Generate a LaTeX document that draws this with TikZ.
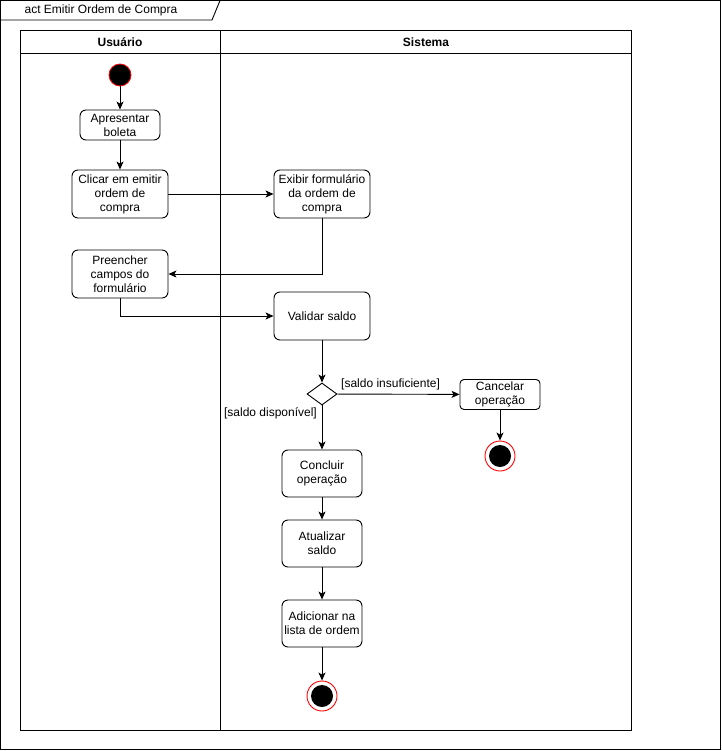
\documentclass[tikz,border=0pt]{standalone}
\usepackage{fontspec}
\setmainfont{Liberation Sans}
\usetikzlibrary{arrows.meta,shapes.geometric}
\begin{document}
\begin{tikzpicture}[x=1pt,y=-1pt,
  every node/.style={font=\fontsize{12}{14}\selectfont},
  action/.style={draw,rounded corners=6pt,line width=0.9pt,align=center,inner sep=0pt},
  flow/.style={line width=0.9pt,-{Stealth[length=8pt,width=7pt,inset=2pt]}},
  frame/.style={line width=0.9pt},
  startnode/.style={circle,draw=red,fill=black,minimum size=22pt,inner sep=0pt,line width=0.8pt},
  endnode/.style={circle,draw=red,fill=white,minimum size=30pt,inner sep=0pt,line width=0.9pt,
    path picture={\fill[black] (path picture bounding box.center) circle (11pt);}},
  guard/.style={font=\fontsize{12}{14}\selectfont,inner sep=0pt}]
\useasboundingbox (0,0) rectangle (721,751);
% outer frame and title tab
\draw[frame] (0.5,0.5) rectangle (720.5,749.5);
\draw[frame] (0.5,20) -- (212,20) -- (220,0.5);
\node[inner sep=0pt] (title) at (101,10) {act Emitir Ordem de Compra};
% swimlanes
\draw[frame] (20,30) rectangle (631,730);
\draw[frame] (20,53) -- (631,53);
\draw[frame] (220,30) -- (220,730);
\node[font=\fontsize{12}{14}\selectfont\bfseries] (laneU) at (120,42) {Usuário};
\node[font=\fontsize{12}{14}\selectfont\bfseries] (laneS) at (426,42) {Sistema};
% nodes
\node[startnode] (start) at (120,75) {};
\node[action,minimum width=80pt,minimum height=30pt] (apres) at (120,125) {Apresentar\\boleta};
\node[action,minimum width=96pt,minimum height=48pt] (clicar) at (120,194) {Clicar em emitir\\ordem de\\compra};
\node[action,minimum width=96pt,minimum height=48pt] (exibir) at (322,194) {Exibir formulário\\da ordem de\\compra};
\node[action,minimum width=96pt,minimum height=48pt] (preencher) at (120,274) {Preencher\\campos do\\formulário};
\node[action,minimum width=96pt,minimum height=48pt] (validar) at (322,316) {Validar saldo};
\node[diamond,draw,line width=0.9pt,minimum width=30pt,minimum height=22pt,inner sep=0pt] (dec) at (322,394) {};
\node[action,minimum width=80pt,minimum height=30pt,rounded corners=4pt] (cancelar) at (500,394.5) {Cancelar\\operação};
\node[endnode] (fim1) at (500,456) {};
\node[action,minimum width=80pt,minimum height=47pt] (concluir) at (322,473.5) {Concluir\\operação};
\node[action,minimum width=80pt,minimum height=47pt] (atualizar) at (322,543.5) {Atualizar\\saldo};
\node[action,minimum width=80pt,minimum height=47pt] (adicionar) at (322,623.5) {Adicionar na\\lista de ordem};
\node[endnode] (fim2) at (322,696) {};
% guards
\node[guard,anchor=south west] (gIns) at (341,390) {[saldo insuficiente]};
\node[guard,anchor=north east] (gDisp) at (317,407) {[saldo disponível]};
% flows
\draw[flow] (start) -- (apres);
\draw[flow] (apres) -- (clicar);
\draw[flow] (clicar) -- (exibir);
\draw[flow] (exibir.south) |- (preencher.east);
\draw[flow] (preencher.south) |- (validar.west);
\draw[flow] (validar) -- (dec);
\draw[flow] (dec) -- (cancelar);
\draw[flow] (dec) -- (concluir);
\draw[flow] (cancelar) -- (fim1);
\draw[flow] (concluir) -- (atualizar);
\draw[flow] (atualizar) -- (adicionar);
\draw[flow] (adicionar) -- (fim2);
\end{tikzpicture}
\end{document}
